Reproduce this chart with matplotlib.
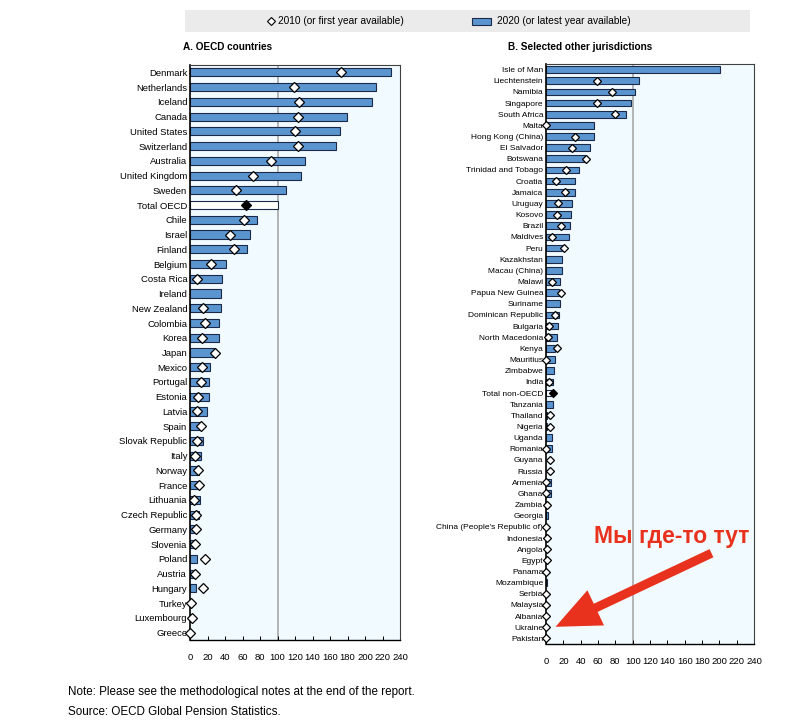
import numpy as np
import matplotlib
matplotlib.use("Agg")
import matplotlib.pyplot as plt
from matplotlib.patches import Rectangle, FancyArrowPatch
from matplotlib.lines import Line2D

plt.rcParams['font.family'] = ['Liberation Sans', 'DejaVu Sans']

oecd_countries = ["Denmark", "Netherlands", "Iceland", "Canada", "United States", "Switzerland",
                  "Australia", "United Kingdom", "Sweden", "Total OECD", "Chile", "Israel", "Finland",
                  "Belgium", "Costa Rica", "Ireland", "New Zealand", "Colombia", "Korea", "Japan",
                  "Mexico", "Portugal", "Estonia", "Latvia", "Spain", "Slovak Republic", "Italy",
                  "Norway", "France", "Lithuania", "Czech Republic", "Germany", "Slovenia", "Poland",
                  "Austria", "Hungary", "Turkey", "Luxembourg", "Greece"]
oecd_2020 = [230, 213, 208, 179, 171, 167, 131.5, 126.6, 110, 100, 76, 69, 65,
             40.7, 37, 35.7, 35, 32.7, 32.7, 29, 22.8, 21.7, 21.7, 19.8, 12.5, 14.8, 12.9,
             10, 8, 11, 10.6, 4, 3, 8, 3, 6.5, 0, 0, 0]
oecd_2010 = [172, 118.6, 124, 123, 120, 123, 92, 71.5, 53, 64, 62, 46, 50.5,
             24, 8.4, np.nan, 15, 16.7, 13.7, 29, 13.7, 12.5, 9.1, 8.4, 12.5, 8.4, 6.1,
             8.7, 10, 4.6, 6.6, 6.6, 6.1, 16.7, 5.3, 15.2, 1.2, 2, 0.5]

other_countries = ["Isle of Man", "Liechtenstein", "Namibia", "Singapore", "South Africa", "Malta",
                   "Hong Kong (China)", "El Salvador", "Botswana", "Trinidad and Tobago", "Croatia",
                   "Jamaica", "Uruguay", "Kosovo", "Brazil", "Maldives", "Peru", "Kazakhstan",
                   "Macau (China)", "Malawi", "Papua New Guinea", "Suriname", "Dominican Republic",
                   "Bulgaria", "North Macedonia", "Kenya", "Mauritius", "Zimbabwe", "India",
                   "Total non-OECD", "Tanzania", "Thailand", "Nigeria", "Uganda", "Romania", "Guyana",
                   "Russia", "Armenia", "Ghana", "Zambia", "Georgia", "China (People's Republic of)",
                   "Indonesia", "Angola", "Egypt", "Panama", "Mozambique", "Serbia", "Malaysia",
                   "Albania", "Ukraine", "Pakistan"]
other_2020 = [201, 107, 103, 98.5, 92, 55, 55, 50.4, 45, 37.7, 33.8, 33.8, 30, 29.3, 28, 27,
              19, 19, 19, 16, 15, 16, 15, 14.2, 13, 10.4, 10.8, 9.2, 8.5, 7, 7.7, 1, 1, 7, 7,
              0, 0, 6, 6, 0, 2, 0, 0, 0, 0, 0, 1, 0, 0, 0, 0, 0]
other_2010 = [np.nan, 59, 76.6, 59, 80, 0, 33.5, 29.6, 46, 22.7, 11.2, 22, 14.2, 13, 17.3, 7.3,
              21, np.nan, np.nan, 6.5, 17, np.nan, 10.4, 3.9, 2.3, 13, 0.4, np.nan, 3.9, 8.5,
              np.nan, 4.6, 4.6, np.nan, 0, 4.6, 4.6, 0, 0, 1.5, np.nan, 0.5, 1, 1, 1, 0,
              np.nan, 0, 0, 0, 0, 0]

x_ticks = [0, 20, 40, 60, 80, 100, 120, 140, 160, 180, 200, 220, 240]

BAR = "#5b95d0"
EDGE = "#1c2a4a"
BG = "#f1fbff"

fig = plt.figure(figsize=(8, 7.28), dpi=100)


def panel(rect, names, v20, v10, total_name, barh_frac, ms, fs):
    ax = fig.add_axes(rect)
    ax.set_facecolor(BG)
    n = len(names)
    y = np.arange(n)
    colors = ["white" if nm == total_name else BAR for nm in names]
    w = np.array(v20, dtype=float)
    mask = w > 0
    ax.barh(y[mask], w[mask], height=barh_frac, color=np.array(colors)[mask],
            edgecolor=EDGE, linewidth=0.8, zorder=2)
    ax.axvline(100, color="#a8a8a8", lw=1.2, zorder=1)
    v10 = np.array(v10, dtype=float)
    for i, nm in enumerate(names):
        if np.isnan(v10[i]):
            continue
        fc = "black" if nm == total_name else "white"
        ax.plot(v10[i], i, marker="D", ms=ms, mfc=fc, mec="black", mew=0.9,
                zorder=3, clip_on=False)
    ax.set_ylim(n - 0.5, -0.5)
    ax.set_xlim(0, 240)
    ax.set_yticks(y)
    ax.set_yticklabels(names, fontsize=fs)
    ax.set_xticks(x_ticks)
    ax.set_xticklabels([str(t) for t in x_ticks], fontsize=6.8)
    ax.tick_params(axis="y", length=0, pad=2)
    ax.tick_params(axis="x", direction="in", length=3, width=0.7, pad=9)
    for s in ["top", "right"]:
        ax.spines[s].set_color("#404040")
        ax.spines[s].set_linewidth(0.8)
    ax.spines["left"].set_color("black")
    ax.spines["left"].set_linewidth(1.2)
    ax.spines["bottom"].set_color("black")
    ax.spines["bottom"].set_linewidth(1.0)
    return ax


ax1 = panel([190 / 800, 1 - 640 / 728, 210 / 800, 575 / 728],
            oecd_countries, oecd_2020, oecd_2010, "Total OECD", 0.55, 4.6, 6.8)
ax2 = panel([546 / 800, 1 - 644 / 728, 208 / 800, 580 / 728],
            other_countries, other_2020, other_2010, "Total non-OECD", 0.6, 3.9, 6.0)

# Legend strip
fig.add_artist(Rectangle((185 / 800, 1 - 32 / 728), 565 / 800, 22 / 728,
                         transform=fig.transFigure, facecolor="#ebebeb", edgecolor="none"))
fig.add_artist(Line2D([271 / 800], [1 - 21 / 728], marker="D", ms=4.0, mfc="white",
                      mec="black", mew=0.8, transform=fig.transFigure))
fig.text(278 / 800, 1 - 21 / 728, "2010 (or first year available)", fontsize=7.3,
         va="center", ha="left")
fig.add_artist(Rectangle((472 / 800, 1 - 25 / 728), 19 / 800, 7 / 728,
                         transform=fig.transFigure, facecolor=BAR, edgecolor=EDGE, lw=0.8))
fig.text(497 / 800, 1 - 21 / 728, "2020 (or latest year available)", fontsize=7.3,
         va="center", ha="left")

# Panel titles
fig.text(183 / 800, 1 - 47 / 728, "A. OECD countries", fontsize=7.2, fontweight="bold",
         va="center", ha="left")
fig.text(508 / 800, 1 - 47 / 728, "B. Selected other jurisdictions", fontsize=7.2,
         fontweight="bold", va="center", ha="left")

# Annotation
RED = "#e8321e"
fig.text(672 / 800, 1 - 537 / 728, "Мы где-то тут", fontsize=16.5, fontweight="bold",
         color=RED, ha="center", va="center")
fig.add_artist(FancyArrowPatch(
    (714 / 800, 1 - 552 / 728), (553 / 800, 1 - 628 / 728),
    transform=fig.transFigure,
    arrowstyle="simple,head_width=2.8,head_length=3.2,tail_width=0.65",
    mutation_scale=10, color=RED, lw=0))

# Footer
fig.text(68 / 800, 1 - 692 / 728, "Note: Please see the methodological notes at the end of the report.",
         fontsize=8.4, va="center", ha="left")
fig.text(68 / 800, 1 - 712 / 728, "Source: OECD Global Pension Statistics.",
         fontsize=8.4, va="center", ha="left")

fig.savefig("out.png", dpi=100, facecolor="white")
